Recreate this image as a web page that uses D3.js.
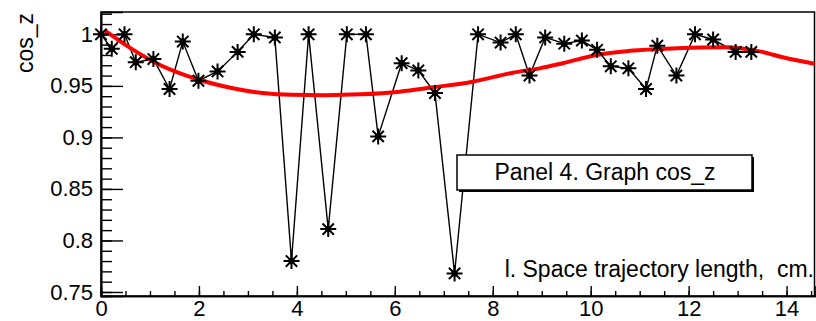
<!DOCTYPE html>
<html>
<head>
<meta charset="utf-8">
<script src="https://cdn.jsdelivr.net/npm/d3@7"></script>
<style>
  body { margin: 0; background: #fff; }
  text { font-family: "Liberation Sans", Arial, Helvetica, sans-serif; fill: #000; }
</style>
</head>
<body>
<div id="chart"></div>
<script>
// measured points: path length (cm) and cos_z
const pathLen = [0.00, 0.22, 0.48, 0.71, 1.07, 1.40, 1.67, 1.99, 2.38, 2.79,
  3.12, 3.55, 3.89, 4.24, 4.64, 5.02, 5.41, 5.66, 6.14, 6.48,
  6.82, 7.22, 7.70, 8.16, 8.47, 8.75, 9.07, 9.46, 9.82, 10.13,
  10.41, 10.77, 11.13, 11.36, 11.75, 12.13, 12.50, 12.96, 13.28]
const cosZ = [1.000, 0.986, 1.000, 0.973, 0.976, 0.947, 0.993, 0.955, 0.964, 0.983,
  1.000, 0.997, 0.780, 1.000, 0.811, 1.000, 1.000, 0.901, 0.972, 0.965,
  0.943, 0.768, 1.000, 0.992, 1.000, 0.960, 0.997, 0.991, 0.994, 0.985,
  0.969, 0.967, 0.947, 0.989, 0.960, 1.000, 0.995, 0.983, 0.983]

// fitted curve
const fitX = [0.08, 0.66, 1.07, 2.02, 2.69, 3.3, 3.9, 4.6, 5.3, 6.1,
  6.78, 7.59, 8.41, 8.96, 9.43, 10.12, 10.8, 11.76, 12.73, 13.5, 13.9, 14.57]
const fitY = [1.0036, 0.9849, 0.9735, 0.9557, 0.9477, 0.943, 0.9413, 0.9410, 0.9418, 0.9444,
  0.9486, 0.954, 0.9628, 0.967, 0.972, 0.980, 0.984, 0.9865, 0.9875, 0.983, 0.978, 0.9715]

const xTicks = [0, 2, 4, 6, 8, 10, 12, 14]
const xMinor = d3.range(0, 14.6, 0.5)
const yTicks = [0.75, 0.8, 0.85, 0.9, 0.95, 1]
const yMinor = d3.range(75, 103, 1).map(d => d / 100)

const W = 816, H = 321
const margin = { top: 12, right: 1.5, bottom: 25, left: 101 }
const width = W - margin.left - margin.right
const height = H - margin.top - margin.bottom

const svg = d3.select('#chart').append('svg')
  .attr('width', W)
  .attr('height', H)

const g = svg.append('g')
  .attr('transform', 'translate(' + margin.left + ',' + margin.top + ')')

const x = d3.scaleLinear().domain([0, 14.57]).range([0, width])
const y = d3.scaleLinear().domain([0.7461, 1.0217]).range([height, 0])

// frame
g.append('rect')
  .attr('width', width).attr('height', height)
  .attr('fill', 'none').attr('stroke', '#000').attr('stroke-width', 1.5)

// x axis, ticks pointing inwards
g.append('g')
  .attr('transform', 'translate(0,' + height + ')')
  .call(d3.axisBottom(x).tickValues(xMinor).tickSize(-5).tickFormat(''))
g.append('g')
  .attr('transform', 'translate(0,' + height + ')')
  .call(d3.axisBottom(x).tickValues(xTicks).tickSize(-10).tickPadding(4)
    .tickFormat(d3.format('d')))
  .call(a => a.selectAll('text').attr('font-size', 22))

// y axis
g.append('g')
  .call(d3.axisLeft(y).tickValues(yMinor).tickSize(-11).tickFormat(''))
g.append('g')
  .call(d3.axisLeft(y).tickValues(yTicks).tickSize(-22).tickPadding(8)
    .tickFormat(d => String(+d.toFixed(2))))
  .call(a => a.selectAll('text').attr('font-size', 22))

svg.selectAll('.domain').attr('stroke-width', 1.6)
svg.selectAll('.tick line').attr('stroke-width', 1.4)

// titles
svg.append('text')
  .attr('transform', 'translate(33,13) rotate(-90)')
  .attr('text-anchor', 'end')
  .attr('font-size', 23)
  .text('cos_z')

svg.append('text')
  .attr('x', 814).attr('y', 277)
  .attr('text-anchor', 'end')
  .attr('font-size', 23)
  .style('white-space', 'pre')
  .text('l. Space trajectory length,  cm.')

const pts = pathLen.map((d, i) => [d, cosZ[i]])
const fit = fitX.map((d, i) => [d, fitY[i]])

// graph line
g.append('path')
  .datum(pts)
  .attr('fill', 'none')
  .attr('stroke', '#000')
  .attr('stroke-width', 1.4)
  .attr('d', d3.line().x(d => x(d[0])).y(d => y(d[1])))

// fit curve
g.append('path')
  .datum(fit)
  .attr('fill', 'none')
  .attr('stroke', '#ff0000')
  .attr('stroke-width', 4)
  .attr('d', d3.line().curve(d3.curveMonotoneX).x(d => x(d[0])).y(d => y(d[1])))

// asterisk markers
const s = 8, k = 5.7
const star = 'M' + -s + ',0L' + s + ',0M0,' + -s + 'L0,' + s +
  'M' + -k + ',' + -k + 'L' + k + ',' + k + 'M' + -k + ',' + k + 'L' + k + ',' + -k
const marks = g.selectAll('.mk')
  .data(pts)
  .enter()
  .append('g')
  .attr('class', 'mk')
  .attr('transform', d => 'translate(' + x(d[0]) + ',' + y(d[1]) + ')')
marks.append('path')
  .attr('d', star)
  .attr('stroke', '#000')
  .attr('stroke-width', 2)
marks.append('circle')
  .attr('r', 3.2)
  .attr('fill', '#000')

// legend box
const lg = svg.append('g')
lg.append('rect')
  .attr('x', 459).attr('y', 157).attr('width', 295).attr('height', 35)
  .attr('fill', '#000')
lg.append('rect')
  .attr('x', 457).attr('y', 155).attr('width', 295).attr('height', 35)
  .attr('fill', '#fff').attr('stroke', '#000').attr('stroke-width', 1.5)
lg.append('text')
  .attr('x', 605).attr('y', 180)
  .attr('text-anchor', 'middle')
  .attr('font-size', 23)
  .text('Panel 4. Graph cos_z')
</script>
</body>
</html>
